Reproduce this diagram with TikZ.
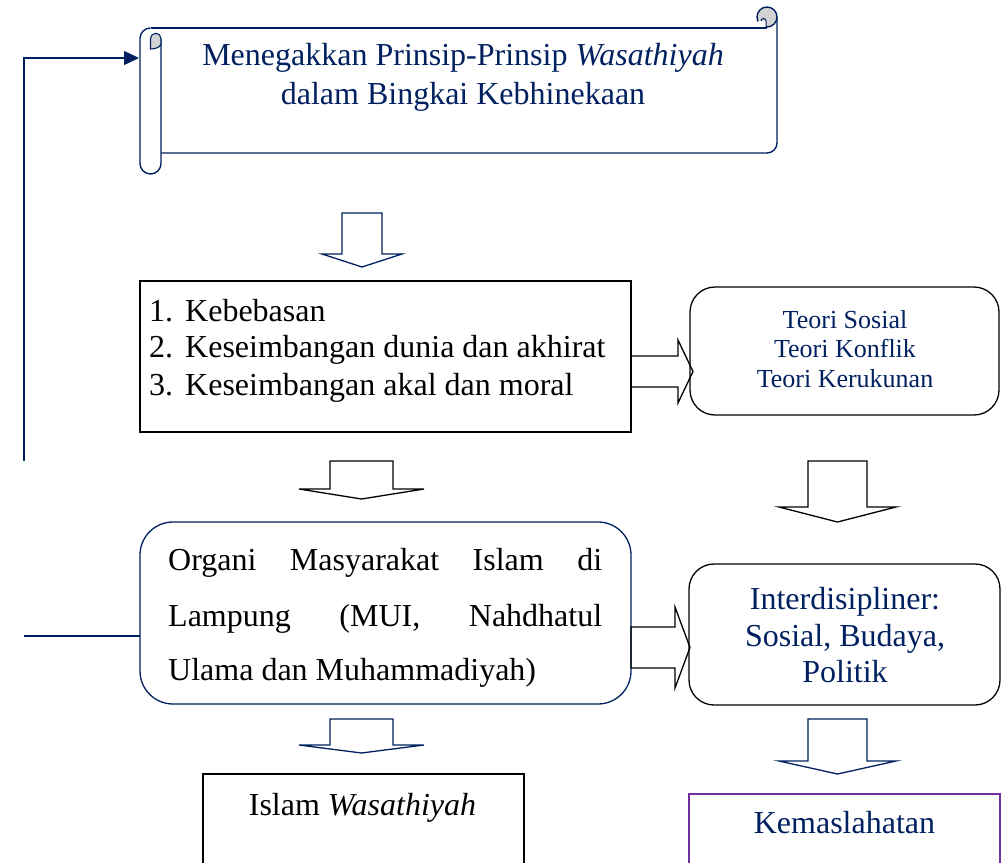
\documentclass[tikz,border=0pt]{standalone}
\usepackage{fontspec}
\setmainfont{Liberation Serif}
\usetikzlibrary{arrows.meta}
\definecolor{navy}{RGB}{0,32,96}
\definecolor{plum}{RGB}{112,48,160}
\newcommand\dblk[7]{% style, cx, top, shoulder, tip, halfshaft, halfwing
  \draw[#1] ({#2-#6},#3) -- ({#2+#6},#3) -- ({#2+#6},#4) -- ({#2+#7},#4) -- (#2,#5) -- ({#2-#7},#4) -- ({#2-#6},#4) -- cycle;}
\newcommand\rblk[7]{% style, left x, cy, head x, tip x, halfshaft, halfhead
  \draw[#1] (#2,{#3-#6}) -- (#4,{#3-#6}) -- (#4,{#3-#7}) -- (#5,#3) -- (#4,{#3+#7}) -- (#4,{#3+#6}) -- (#2,{#3+#6}) -- cycle;}
\begin{document}
\begin{tikzpicture}[x=1pt,y=-1pt,
  boxst/.style={draw, anchor=north west, inner sep=0pt, outer sep=0pt, line width=1.3pt},
  txt/.style={inner sep=0pt, anchor=base, font=\fontsize{32}{38}\selectfont},
  txtl/.style={inner sep=0pt, anchor=base west, font=\fontsize{32}{38}\selectfont},
  small/.style={inner sep=0pt, anchor=base, font=\fontsize{26}{30}\selectfont, text=navy},
  blk/.style={line width=1.3pt, line join=miter},
  scroll/.style={draw=navy, line width=1.4pt}]
\useasboundingbox (0,0) rectangle (1006,862);

% ---- scroll ----
\draw[scroll] (150.5,28) -- (767,28);
\draw[scroll] (777,17) -- (777,143) arc[start angle=0,end angle=90,radius=10] -- (161,153);
\filldraw[scroll, fill=gray!35] (767,17) circle[radius=10];
\fill[white] (757.8,21) rectangle (766,27.3);
\draw[navy, line width=1pt] (766,28) -- (766,21) arc[start angle=0,end angle=-180,radius=2.5];
\draw[scroll, fill=white] (161,38.5) -- (161,163.5) arc[start angle=0,end angle=180,radius=10.5] -- (140,38.5) arc[start angle=180,end angle=270,radius=10.5];
\filldraw[scroll, line width=1.1pt, fill=gray!35] (150.5,49) -- (150.5,38.5) arc[start angle=180,end angle=360,radius=5.25] -- (161,43) .. controls (161,47) and (156,49) .. (150.5,49) -- cycle;
\coordinate (scrollin) at (139,58);
\node[txt, text=navy] (t1) at (463,65) {Menegakkan Prinsip-Prinsip \textit{Wasathiyah}};
\node[txt, text=navy] (t2) at (463,104) {dalam Bingkai Kebhinekaan};

% ---- boxes ----
\node[boxst, minimum width=491pt, minimum height=151pt] (box1) at (140,281) {};
\node[txtl] (b1) at (149,321) {\makebox[36pt][l]{1.}Kebebasan};
\node[txtl] (b2) at (149,357) {\makebox[36pt][l]{2.}Keseimbangan dunia dan akhirat};
\node[txtl] (b3) at (149,395) {\makebox[36pt][l]{3.}Keseimbangan akal dan moral};

\node[boxst, rounded corners=25pt, minimum width=309pt, minimum height=128pt] (teori) at (690,287) {};
\node[small] (s1) at (845,328) {Teori Sosial};
\node[small] (s2) at (845,357.5) {Teori Konflik};
\node[small] (s3) at (845,387) {Teori Kerukunan};

\node[boxst, draw=navy, rounded corners=33pt, minimum width=491pt, minimum height=182pt] (organi) at (140,522) {};
\node[txtl] (o1) at (168,570) {\hbox to 434pt{Organi\hfill Masyarakat\hfill Islam\hfill di}};
\node[txtl] (o2) at (168,626) {\hbox to 434pt{Lampung\hfill (MUI,\hfill Nahdhatul}};
\node[txtl] (o3) at (168,680) {Ulama dan Muhammadiyah)};

\node[boxst, rounded corners=25pt, minimum width=311pt, minimum height=141pt] (inter) at (689,564) {};
\node[txt, text=navy] (i1) at (845,609) {Interdisipliner:};
\node[txt, text=navy] (i2) at (845,646) {Sosial, Budaya,};
\node[txt, text=navy] (i3) at (845,682) {Politik};

\node[boxst, minimum width=321pt, minimum height=110pt] (islam) at (203,774) {};
\node[txt] (is) at (362.5,815) {Islam \textit{Wasathiyah}};

\node[boxst, draw=plum, line width=1.1pt, minimum width=311pt, minimum height=110pt] (kem) at (689,794) {};
\node[txt, text=navy] (km) at (844.5,833) {Kemaslahatan};

% ---- block arrows ----
\dblk{blk, draw=navy}{362}{213}{254}{267}{20}{40}
\dblk{blk}{361.5}{461}{489}{499}{31.5}{62.5}
\dblk{blk}{837.5}{461}{507}{522}{29.5}{58.5}
\dblk{blk, draw=navy}{361.5}{719}{745}{753}{31.5}{62.5}
\dblk{blk, draw=navy}{837.5}{719}{761}{774}{29.5}{58.5}
\rblk{blk}{631}{371.5}{678}{693}{15.5}{31.5}
\rblk{blk}{631}{647.5}{675}{690}{20.5}{40.5}

% ---- feedback line ----
\coordinate (c1) at (24,461);
\coordinate (c2) at (24,636);
\draw[navy, line width=1.4pt, -{Triangle[length=15pt,width=14pt]}] (c1) |- (scrollin);
\draw[navy, line width=1.4pt] (c2) -- (c2 -| organi.west);
\end{tikzpicture}
\end{document}
